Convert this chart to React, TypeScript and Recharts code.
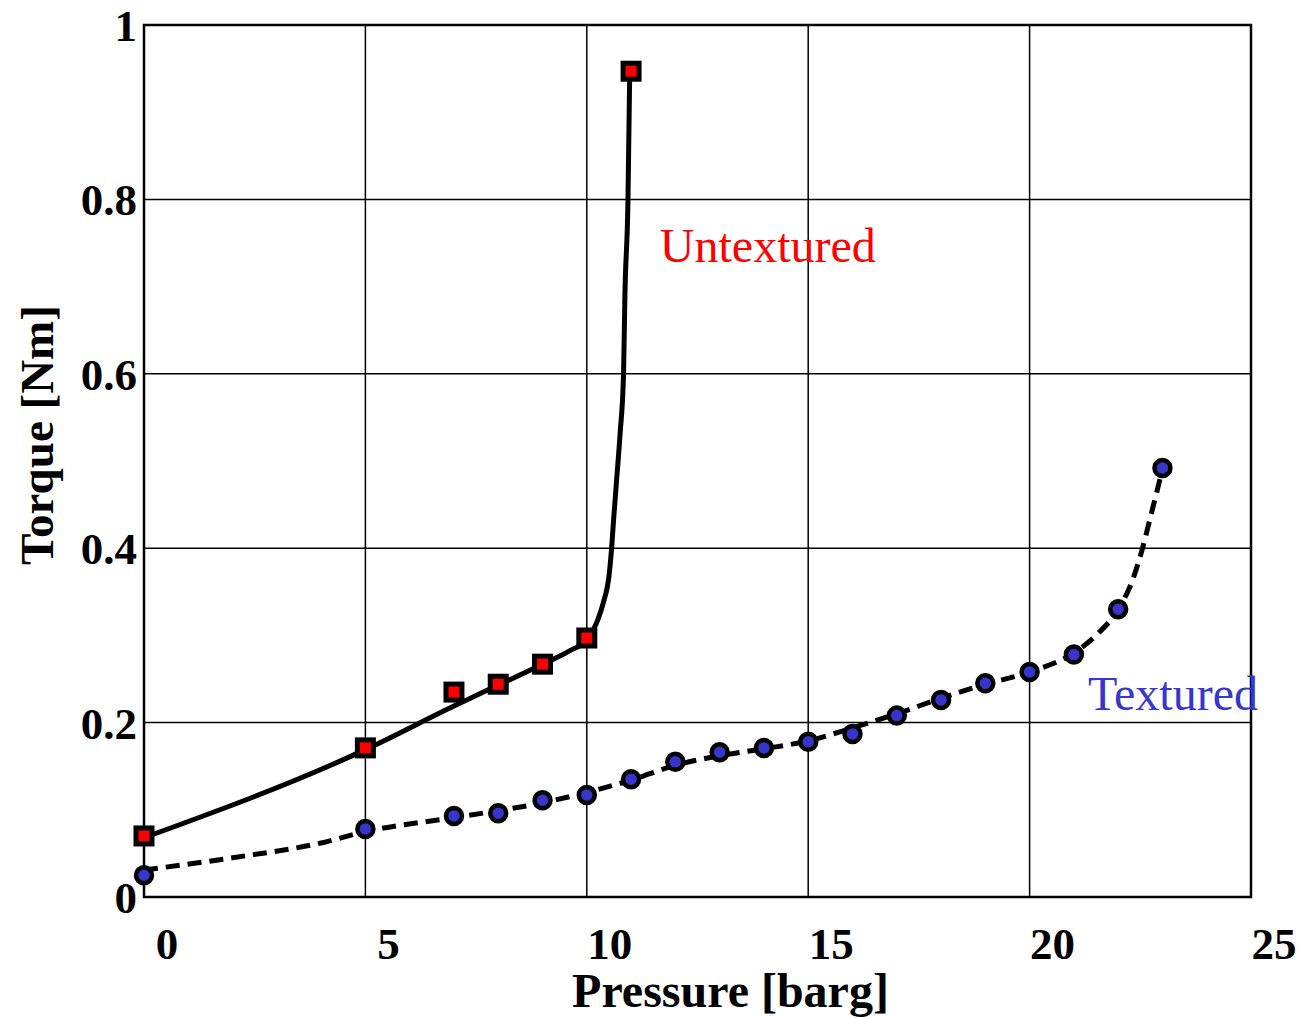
import {
  ComposedChart,
  Line,
  Scatter,
  XAxis,
  YAxis,
  CartesianGrid,
  ReferenceArea,
  ReferenceDot,
  Label,
} from "recharts";

// measured points
const untexturedX = [0, 5, 7, 8, 9, 10, 11];
const untexturedY = [0.07, 0.171, 0.235, 0.244, 0.267, 0.297, 0.947];

const texturedX = [0, 5, 7, 8, 9, 10, 11, 12, 13, 14, 15, 16, 17, 18, 19, 20, 21, 22, 23];
const texturedY = [
  0.025, 0.078, 0.093, 0.096, 0.111, 0.117, 0.135, 0.155, 0.166, 0.171, 0.178,
  0.187, 0.208, 0.226, 0.245, 0.258, 0.278, 0.33, 0.492,
];

// fitted curves
const untexturedFitX = [
  0, 5, 7, 8, 9, 9.6, 10, 10.25, 10.37, 10.51, 10.56, 10.61, 10.67, 10.75, 10.83,
  10.86, 10.93, 10.97,
];
const untexturedFitY = [
  0.068, 0.169, 0.219, 0.243, 0.267, 0.282, 0.295, 0.318, 0.337, 0.372, 0.4,
  0.436, 0.476, 0.53, 0.6, 0.688, 0.8, 0.947,
];

const texturedFitX = [
  0, 2, 4, 5, 7, 8, 9, 10, 11, 12, 13, 14, 15, 16, 17, 18, 19, 20, 21, 21.5, 22,
  22.3, 22.55, 22.75, 22.9, 23,
];
const texturedFitY = [
  0.031, 0.045, 0.062, 0.075, 0.091, 0.099, 0.108, 0.12, 0.134, 0.151, 0.162,
  0.17, 0.179, 0.194, 0.21, 0.228, 0.244, 0.258, 0.28, 0.3, 0.33, 0.36, 0.4,
  0.44, 0.47, 0.492,
];

const xTicks = [0, 5, 10, 15, 20, 25];
const yTicks = [0, 0.2, 0.4, 0.6, 0.8, 1];

const zip = (xs: number[], ys: number[]) => xs.map((x, i) => ({ x, y: ys[i] }));

const untextured = zip(untexturedX, untexturedY);
const textured = zip(texturedX, texturedY);
const untexturedFit = zip(untexturedFitX, untexturedFitY);
const texturedFit = zip(texturedFitX, texturedFitY);

const FONT = '"Liberation Serif", "Times New Roman", serif';
const BLUE = "#3636cc";
const RED = "#ff0000";

function XTick(props: any) {
  const { x, y, payload } = props;
  return (
    <text x={x + 23} y={y + 54} textAnchor="middle" fontFamily={FONT} fontWeight="bold" fontSize={45} fill="#000">
      {payload.value}
    </text>
  );
}

function YTick(props: any) {
  const { x, y, payload } = props;
  return (
    <text x={x + 1} y={y + 16} textAnchor="end" fontFamily={FONT} fontWeight="bold" fontSize={45} fill="#000">
      {payload.value}
    </text>
  );
}

function SquareMark(props: any) {
  const { cx, cy } = props;
  return <rect x={cx - 8} y={cy - 8} width={16} height={16} fill={RED} stroke="#000" strokeWidth={5} />;
}

function CircleMark(props: any) {
  const { cx, cy } = props;
  return <circle cx={cx} cy={cy} r={8} fill={BLUE} stroke="#000" strokeWidth={4.5} />;
}

function Anno({ viewBox, text, color }: any) {
  return (
    <text x={viewBox.x} y={viewBox.y} fontFamily={FONT} fontSize={48} fill={color}>
      {text}
    </text>
  );
}

export default function App() {
  return (
    <div style={{ position: "absolute", left: 0, top: 0, background: "#fff" }}>
      <ComposedChart
        width={1306}
        height={1018}
        margin={{ top: 25, right: 55, bottom: 61, left: 44 }}
      >
        <CartesianGrid stroke="#000" strokeWidth={1.5} horizontalValues={yTicks} verticalValues={xTicks} />
        <XAxis
          type="number"
          dataKey="x"
          domain={[0, 25]}
          ticks={xTicks}
          height={60}
          axisLine={false}
          tickLine={false}
          tick={<XTick />}
        >
          <Label
            content={({ viewBox }: any) => (
              <text
                x={viewBox.x + viewBox.width / 2 + 33}
                y={viewBox.y + 110}
                textAnchor="middle"
                fontFamily={FONT}
                fontWeight="bold"
                fontSize={48}
                fill="#000"
              >
                Pressure [barg]
              </text>
            )}
          />
        </XAxis>
        <YAxis
          type="number"
          dataKey="y"
          domain={[0, 1]}
          ticks={yTicks}
          width={100}
          axisLine={false}
          tickLine={false}
          tick={<YTick />}
        >
          <Label
            content={({ viewBox }: any) => {
              const cx = 53;
              const cy = viewBox.y + viewBox.height / 2 - 26;
              return (
                <text
                  x={cx}
                  y={cy}
                  transform={`rotate(-90 ${cx} ${cy})`}
                  textAnchor="middle"
                  fontFamily={FONT}
                  fontWeight="bold"
                  fontSize={47}
                  fill="#000"
                >
                  Torque [Nm]
                </text>
              );
            }}
          />
        </YAxis>
        <ReferenceArea x1={0} x2={25} y1={0} y2={1} fill="none" stroke="#000" strokeWidth={2.5} ifOverflow="visible" />
        <Line
          data={texturedFit}
          dataKey="y"
          type="monotone"
          stroke="#000"
          strokeWidth={5}
          strokeDasharray="14 8"
          dot={false}
          activeDot={false}
          isAnimationActive={false}
        />
        <Scatter data={textured} dataKey="y" shape={<CircleMark />} isAnimationActive={false} />
        <Scatter data={untextured} dataKey="y" shape={<SquareMark />} isAnimationActive={false} />
        <Line
          data={untexturedFit}
          dataKey="y"
          type="monotone"
          stroke="#000"
          strokeWidth={5}
          dot={false}
          activeDot={false}
          isAnimationActive={false}
        />
        <ReferenceDot
          x={11.65}
          y={0.728}
          r={0}
          ifOverflow="visible"
          label={<Anno text="Untextured" color={RED} />}
        />
        <ReferenceDot
          x={21.32}
          y={0.214}
          r={0}
          ifOverflow="visible"
          label={<Anno text="Textured" color={BLUE} />}
        />
      </ComposedChart>
    </div>
  );
}
